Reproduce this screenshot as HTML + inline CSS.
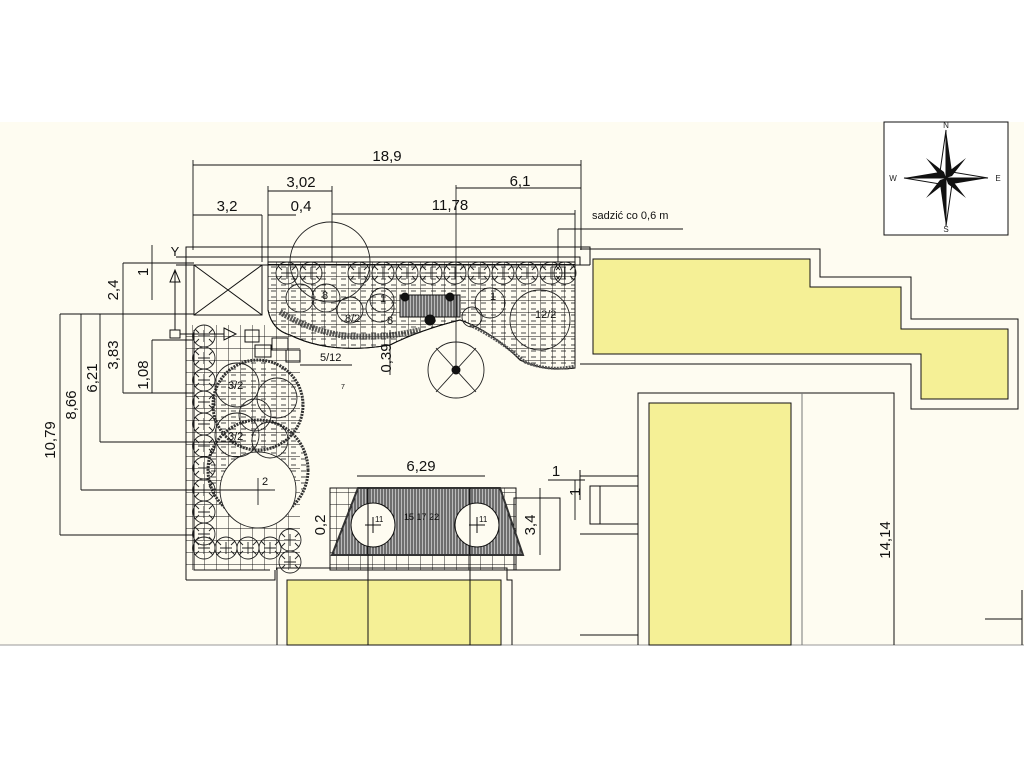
<!DOCTYPE html>
<html><head><meta charset="utf-8"><style>
html,body{margin:0;padding:0;background:#fff;}
svg{display:block;font-family:"Liberation Sans",sans-serif;}
</style></head><body>
<svg width="1024" height="768" viewBox="0 0 1024 768" xmlns="http://www.w3.org/2000/svg">
<defs>
<pattern id="grid" width="12" height="12" patternUnits="userSpaceOnUse">
<path d="M0 0H12M0 0V12" stroke="#111" stroke-width="0.9" fill="none"/></pattern>
<pattern id="dash" width="10" height="6" patternUnits="userSpaceOnUse">
<path d="M1 3H6" stroke="#333" stroke-width="0.9"/></pattern>
<pattern id="vh" width="3" height="4" patternUnits="userSpaceOnUse">
<rect width="3" height="4" fill="#bbb"/><path d="M1 0V4" stroke="#222" stroke-width="1"/></pattern>
<g id="pl"><circle r="11" fill="none" stroke="#222" stroke-width="0.9"/><path d="M-6 0H6M0 -6V6M-9 -7L-5 -3M9 -7L5 -3M-9 7L-5 3M9 7L5 3" stroke="#222" stroke-width="0.9"/></g>
</defs>
<rect x="0" y="122" width="1024" height="523" fill="#fefcf1"/>
<line x1="0" y1="645" x2="1024" y2="645" stroke="#999" stroke-width="1"/>
<g stroke="#111" stroke-width="1" fill="none">
<rect x="884" y="122" width="124" height="113" fill="#fff"/>
<path d="M580 249H820V277H911V319H1018V409H911V364H580" />
<path d="M593 259H810V287H901V329H1008V399H921V354H593Z" fill="#f5f096"/>
<path d="M638 645V393H894V645"/>
<line x1="802" y1="393" x2="802" y2="645" stroke="#777"/>
<rect x="649" y="403" width="142" height="242" fill="#f5f096"/>
<path d="M580 476H638M580 534H638"/>
<rect x="590" y="486" width="48" height="38"/>
<line x1="600" y1="486" x2="600" y2="524"/>
<path d="M580 635H638"/>
<path d="M985 619H1022M1022 590V645"/>
<path d="M277 645V568H507V580H512V645"/>
<rect x="287" y="580" width="214" height="65" fill="#f5f096"/>
<path d="M186 580V247H590V265"/>
<path d="M186 580H275V570"/>
<path d="M176 257H580V265"/>
<path d="M176 265H590"/>
<path d="M194 330V570H270"/>
<path d="M514 570V498H560V570Z"/>
<line x1="560" y1="480" x2="580" y2="480"/>
<line x1="580" y1="470" x2="580" y2="500"/>
<rect x="194" y="265" width="68" height="50"/>
<path d="M194 265L262 315M262 265L194 315"/>
<path d="M268 262H575V368Q545 372 520 360Q490 330 460 320Q420 330 390 345Q330 355 290 335Q272 330 268 310Z" fill="url(#dash)"/>
<path d="M268 262H575V368Q545 372 520 360Q490 330 460 320Q420 330 390 345Q330 355 290 335Q272 330 268 310Z" fill="url(#grid)" stroke="#111"/>
<path d="M280 312Q310 330 340 335Q380 340 420 330" stroke="#333" stroke-width="6" stroke-dasharray="2 1" opacity="0.8"/>
<path d="M470 325Q500 340 525 362Q550 372 575 366" stroke="#555" stroke-width="3" stroke-dasharray="2 1"/>
<rect x="400" y="295" width="60" height="22" fill="url(#vh)"/>
<circle cx="405" cy="297" r="4" fill="#111"/><circle cx="450" cy="297" r="4" fill="#111"/><circle cx="430" cy="320" r="5" fill="#111"/>
<use href="#pl" x="287" y="273"/><use href="#pl" x="311" y="273"/><use href="#pl" x="359" y="273"/><use href="#pl" x="383" y="273"/><use href="#pl" x="407" y="273"/><use href="#pl" x="431" y="273"/><use href="#pl" x="455" y="273"/><use href="#pl" x="479" y="273"/><use href="#pl" x="503" y="273"/><use href="#pl" x="527" y="273"/><use href="#pl" x="551" y="273"/><use href="#pl" x="565" y="273"/>
<g stroke="#222" stroke-width="0.9">
<circle cx="330" cy="262" r="40"/>
<circle cx="300" cy="298" r="14"/><circle cx="326" cy="298" r="14"/><circle cx="350" cy="310" r="13"/><circle cx="380" cy="308" r="14"/><circle cx="382" cy="300" r="12"/>
<circle cx="490" cy="303" r="15"/><circle cx="472" cy="317" r="10"/>
<circle cx="540" cy="320" r="30"/>
<circle cx="456" cy="370" r="28"/>
<path d="M436 348L476 392M476 348L436 392M456 185V370"/>
</g>
<circle cx="456" cy="370" r="4" fill="#111"/>
<path d="M186 325H300V570H186Z" fill="url(#grid)" stroke="none"/>
<circle cx="258" cy="405" r="45" fill="url(#dash)" stroke="#333" stroke-width="3" stroke-dasharray="2 1"/>
<circle cx="258" cy="470" r="50" fill="url(#dash)" stroke="#333" stroke-width="3" stroke-dasharray="2 1"/>
<g stroke="#222" stroke-width="0.9">
<circle cx="258" cy="490" r="38" fill="#fefcf1"/>
<circle cx="237" cy="385" r="22"/><circle cx="277" cy="398" r="20"/><circle cx="237" cy="435" r="22"/><circle cx="270" cy="440" r="18"/><circle cx="255" cy="415" r="16"/>
<path d="M240 490H275M258 478V505"/>
</g>
<use href="#pl" x="204" y="336"/><use href="#pl" x="204" y="358"/><use href="#pl" x="204" y="380"/><use href="#pl" x="204" y="402"/><use href="#pl" x="204" y="424"/><use href="#pl" x="204" y="446"/><use href="#pl" x="204" y="468"/><use href="#pl" x="204" y="490"/><use href="#pl" x="204" y="512"/><use href="#pl" x="204" y="534"/>
<use href="#pl" x="204" y="548"/><use href="#pl" x="226" y="548"/><use href="#pl" x="248" y="548"/><use href="#pl" x="270" y="548"/><use href="#pl" x="290" y="540"/><use href="#pl" x="290" y="562"/>
<rect x="245" y="330" width="14" height="12"/><rect x="255" y="345" width="16" height="12"/><rect x="272" y="338" width="16" height="12"/><rect x="286" y="350" width="14" height="12"/>
<path d="M224 328L236 334L224 340Z"/>
<rect x="170" y="330" width="10" height="8"/><line x1="180" y1="334" x2="224" y2="334"/>
<line x1="175" y1="270" x2="175" y2="330"/><path d="M170 282L175 270L180 282Z"/>
<rect x="330" y="488" width="186" height="82" fill="url(#grid)"/>
<path d="M358 488H500L523 555H332Z" fill="url(#vh)" stroke="#333" stroke-width="2"/>
<circle cx="373" cy="525" r="22" fill="#fefcf1"/><circle cx="477" cy="525" r="22" fill="#fefcf1"/>
<path d="M368 488V645M470 488V645M330 570H514M365 525H381M373 517V533M469 525H485M477 517V533"/>
<g stroke-width="0.9">
<path d="M193 165H581M193 160V250M581 160V250"/>
<path d="M268 191H332M268 186V262M332 186V262"/>
<path d="M456 188H581"/>
<path d="M193 215H262M262 215V262M268 215H296M332 214H575M575 210V262"/>
<path d="M558 229H683M558 229V262"/>
<path d="M60 314H194M60 314V535M60 535H194"/>
<path d="M81 314V490M81 490H270"/>
<path d="M100 314V442M100 442H240"/>
<path d="M123 263V393M123 263H194M123 393H194"/>
<path d="M152 245V300M152 340V393M152 340H194"/>
<path d="M390 330V375"/>
<path d="M357 476H485M330 488V510M540 488V555M548 480H585M575 480V520"/>
<path d="M300 365H352"/>
</g>
</g>
<g transform="translate(946,178)">
<path d="M0 -48L6 -6L0 0Z" fill="#111"/><path d="M0 -48L-6 -6L0 0Z" fill="#fff" stroke="#111"/>
<path d="M0 48L-6 6L0 0Z" fill="#111"/><path d="M0 48L6 6L0 0Z" fill="#fff" stroke="#111"/>
<path d="M-42 0L-6 -6L0 0Z" fill="#111"/><path d="M-42 0L-6 6L0 0Z" fill="#fff" stroke="#111"/>
<path d="M42 0L6 6L0 0Z" fill="#111"/><path d="M42 0L6 -6L0 0Z" fill="#fff" stroke="#111"/>
<path d="M-20 -20L-2 -6L0 0L-6 -2Z" fill="#111"/><path d="M20 -20L6 -2L0 0L2 -6Z" fill="#111"/>
<path d="M-20 20L-6 2L0 0L-2 6Z" fill="#111"/><path d="M20 20L2 6L0 0L6 2Z" fill="#111"/>
</g>
<g font-size="8" fill="#222" text-anchor="middle">
<text x="946" y="128">N</text><text x="946" y="232">S</text><text x="893" y="181">W</text><text x="998" y="181">E</text>
</g>
<g font-size="15" fill="#111" text-anchor="middle">
<text x="387" y="161">18,9</text>
<text x="301" y="187">3,02</text>
<text x="520" y="186">6,1</text>
<text x="227" y="211">3,2</text>
<text x="301" y="211">0,4</text>
<text x="450" y="210">11,78</text>
<text x="421" y="471">6,29</text>
<text x="556" y="476">1</text>
<text transform="translate(55,440) rotate(-90)">10,79</text>
<text transform="translate(76,405) rotate(-90)">8,66</text>
<text transform="translate(97,378) rotate(-90)">6,21</text>
<text transform="translate(118,355) rotate(-90)">3,83</text>
<text transform="translate(118,290) rotate(-90)">2,4</text>
<text transform="translate(148,272) rotate(-90)">1</text>
<text transform="translate(148,375) rotate(-90)">1,08</text>
<text transform="translate(391,358) rotate(-90)">0,39</text>
<text transform="translate(325,525) rotate(-90)">0,2</text>
<text transform="translate(535,525) rotate(-90)">3,4</text>
<text transform="translate(580,492) rotate(-90)">1</text>
<text transform="translate(890,540) rotate(-90)">14,14</text>
<text x="175" y="256" font-size="13">Y</text>
</g>
<g font-size="11" fill="#111">
<text x="592" y="219">sadzić co 0,6 m</text>
<text x="320" y="361">5/12</text>
<text x="341" y="389" font-size="7">7</text>
<text x="535" y="318">12/2</text>
<text x="322" y="299">8</text><text x="490" y="300">1</text><text x="380" y="302">1</text>
<text x="345" y="322">8/2</text><text x="387" y="324">8</text>
<text x="228" y="389">3/2</text><text x="228" y="440">3/2</text><text x="262" y="485">2</text>
<text x="404" y="520" font-size="9">15 17 22</text>
<text x="375" y="522" font-size="8">11</text><text x="479" y="522" font-size="8">11</text>
</g>
</svg>
</body></html>
